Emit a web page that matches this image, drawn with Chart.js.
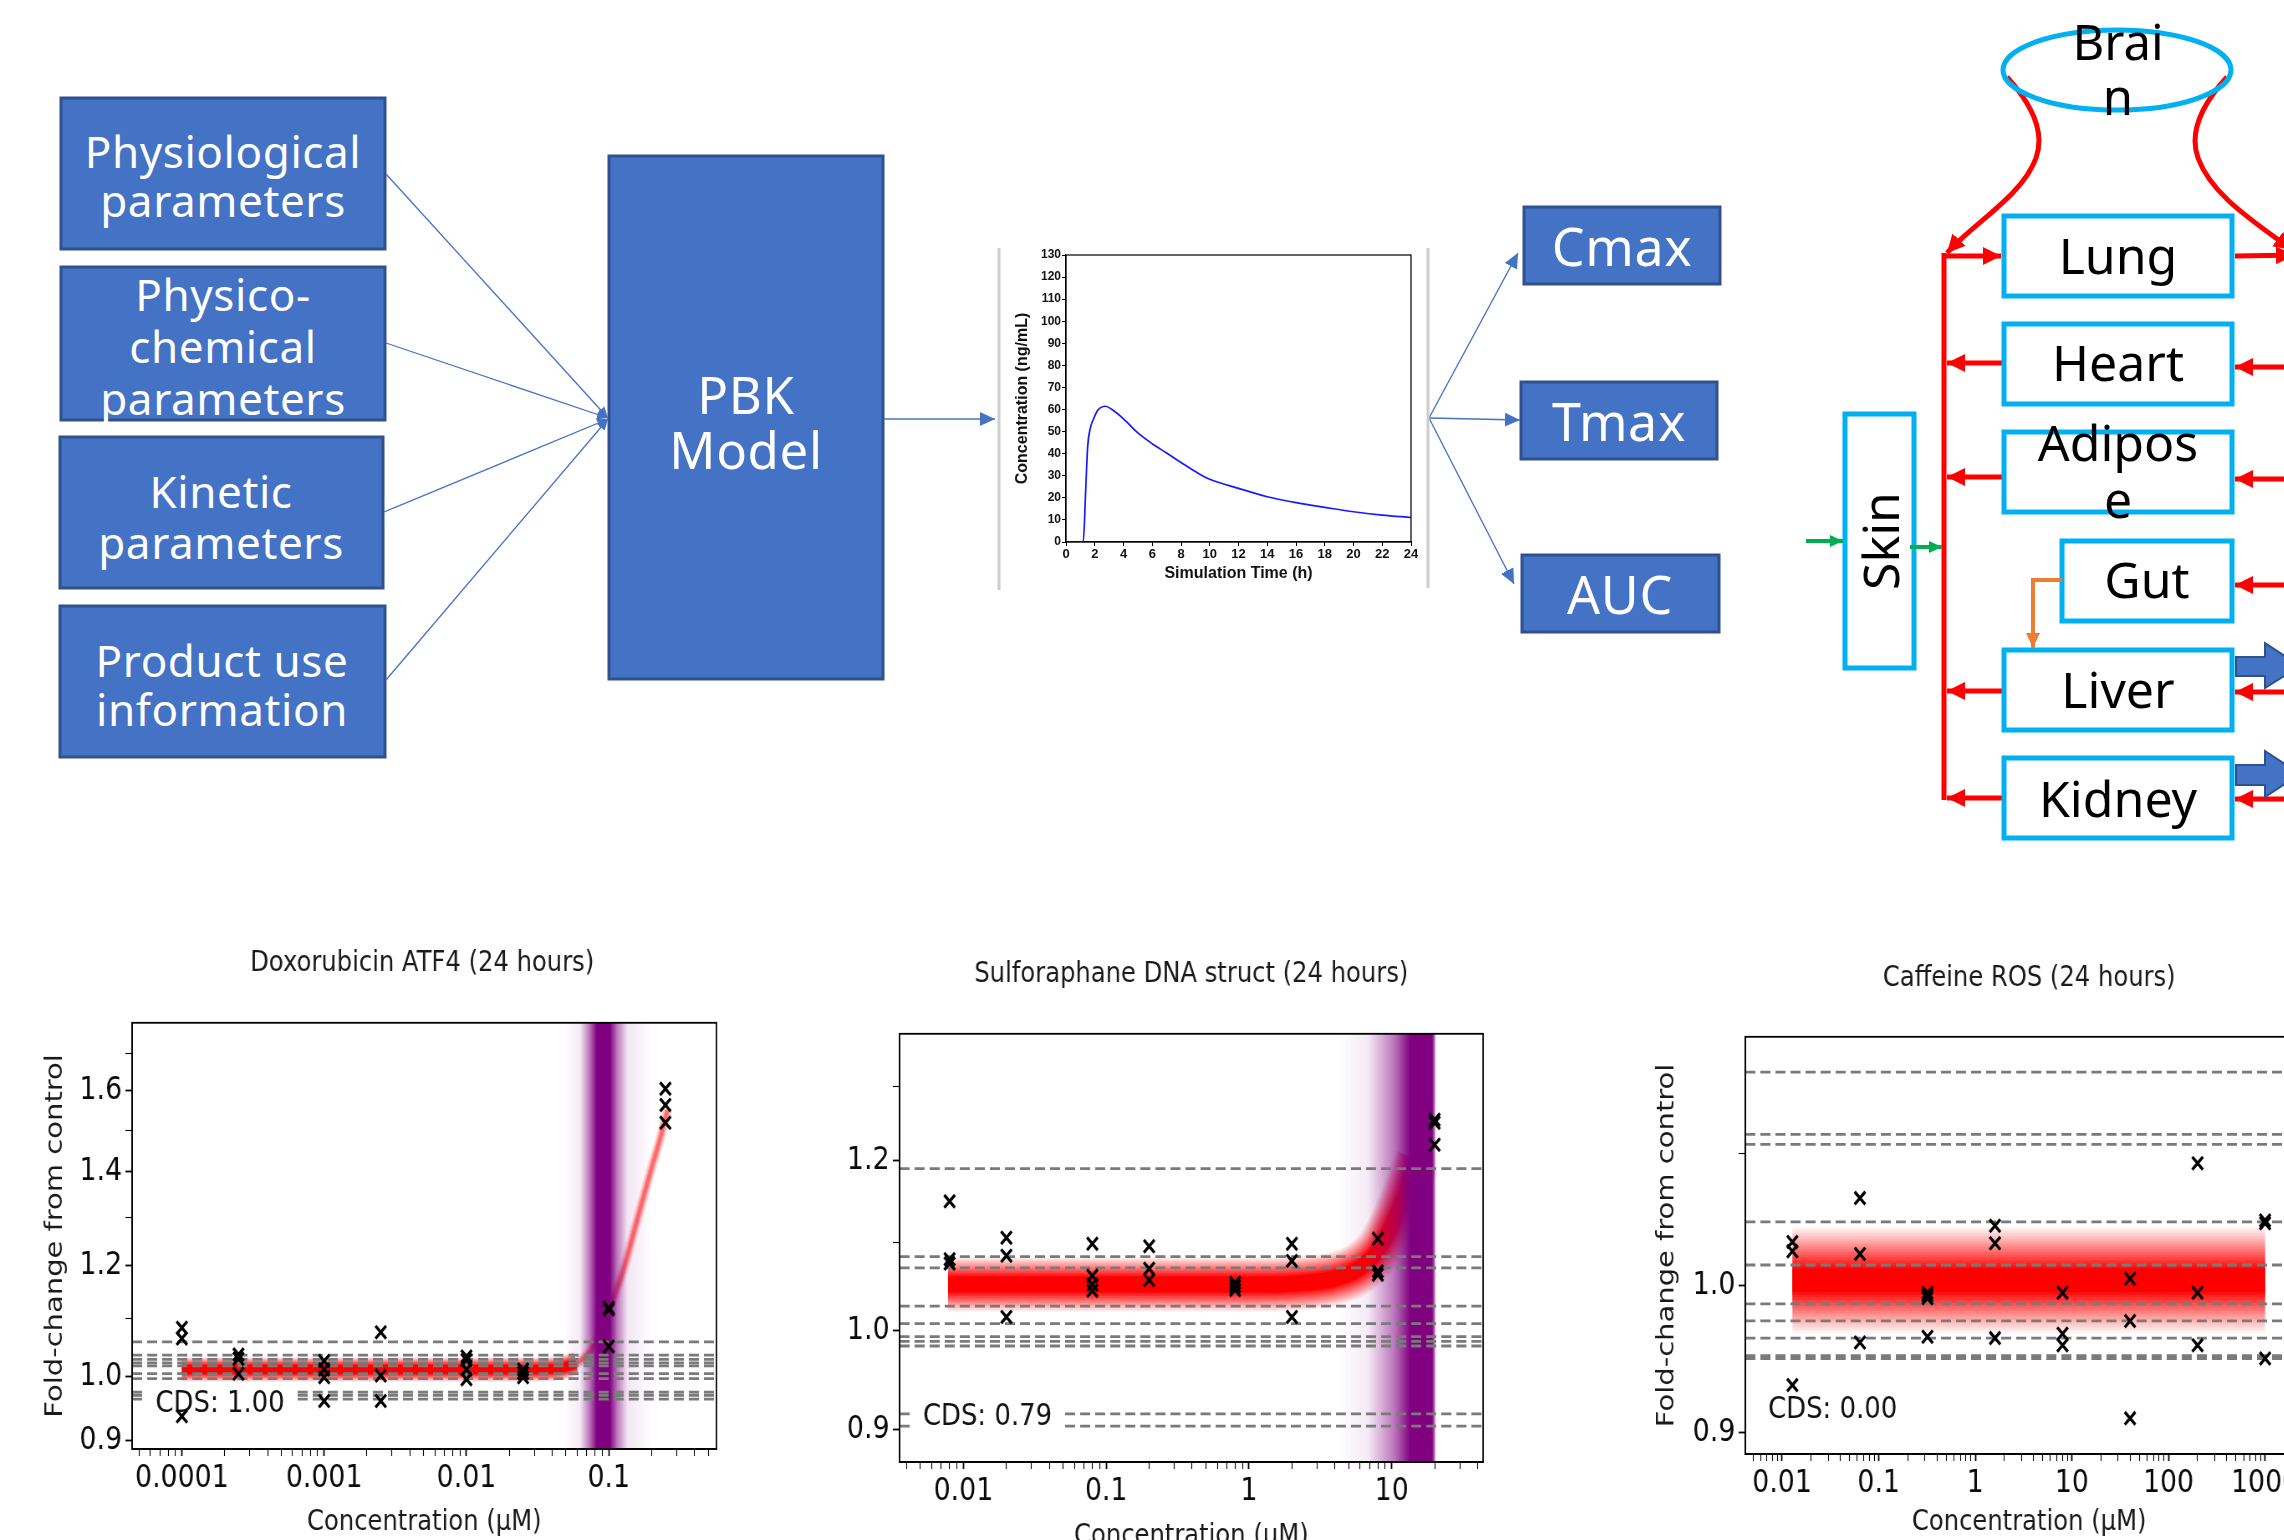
<!DOCTYPE html>
<html>
<head>
<meta charset="utf-8">
<title>PBK workflow</title>
<script src="https://cdn.jsdelivr.net/npm/chart.js@4.4.1/dist/chart.umd.min.js"></script>
<style>
  html, body { margin: 0; padding: 0; background: #fff; }
  body { width: 2284px; height: 1540px; overflow: hidden; position: relative; }
  #diagram { position: absolute; left: 0; top: 0; }
  canvas { position: absolute; }
  /* the dose-response panels come from a horizontally squeezed figure */
  canvas.squeezed { transform: scaleX(0.836); transform-origin: 0 0; }
</style>
</head>
<body>
<svg id="diagram" width="2284" height="1540" viewBox="0 0 2284 1540" xmlns="http://www.w3.org/2000/svg">
  <defs>
    <marker id="hdBlue" markerUnits="userSpaceOnUse" markerWidth="16" markerHeight="16" refX="15" refY="8" orient="auto"><path d="M0,1 L15,8 L0,15 Z" fill="#4472C4"/></marker>
    <marker id="hdBlueS" markerUnits="userSpaceOnUse" markerWidth="12" markerHeight="12" refX="11" refY="6" orient="auto"><path d="M0,1 L11,6 L0,11 Z" fill="#4472C4"/></marker>
    <marker id="hdRed" markerUnits="userSpaceOnUse" markerWidth="20" markerHeight="20" refX="18" refY="10" orient="auto"><path d="M0,1 L18,10 L0,19 Z" fill="#FF0000"/></marker>
    <marker id="hdGreen" markerUnits="userSpaceOnUse" markerWidth="14" markerHeight="14" refX="13" refY="7" orient="auto"><path d="M0,1 L13,7 L0,13 Z" fill="#00B050"/></marker>
    <marker id="hdOrange" markerUnits="userSpaceOnUse" markerWidth="16" markerHeight="16" refX="15" refY="8" orient="auto"><path d="M0,1 L15,8 L0,15 Z" fill="#ED7D31"/></marker>
  </defs>

  <!-- inputs, model, outputs -->
  <g fill="#4472C4" stroke="#2F528F" stroke-width="3">
    <rect x="61" y="98" width="324" height="151"/>
    <rect x="61" y="267" width="324" height="153"/>
    <rect x="60" y="437" width="323" height="151"/>
    <rect x="60" y="606" width="325" height="151"/>
    <rect x="609" y="156" width="274" height="523"/>
    <rect x="1524" y="207" width="196" height="77"/>
    <rect x="1521" y="382" width="196" height="77"/>
    <rect x="1522" y="555" width="197" height="77"/>
  </g>
  <g fill="#fff" font-family="'Noto Sans', 'Open Sans', sans-serif" font-size="44" letter-spacing="0.6" text-anchor="middle" dominant-baseline="central">
    <text x="223" y="151">Physiological</text>
    <text x="223" y="200">parameters</text>
    <text x="223" y="294">Physico-</text>
    <text x="223" y="346">chemical</text>
    <text x="223" y="398">parameters</text>
    <text x="221" y="491">Kinetic</text>
    <text x="221" y="542">parameters</text>
    <text x="222" y="660">Product use</text>
    <text x="222" y="709">information</text>
    <text x="746" y="394" font-size="51">PBK</text>
    <text x="746" y="449" font-size="51">Model</text>
    <text x="1622" y="245" font-size="52">Cmax</text>
    <text x="1619" y="420" font-size="52">Tmax</text>
    <text x="1620" y="593" font-size="52">AUC</text>
  </g>
  <g stroke="#4472C4" stroke-width="1.3" fill="none">
    <line x1="386" y1="174" x2="608" y2="418" marker-end="url(#hdBlueS)"/>
    <line x1="386" y1="343" x2="608" y2="418" marker-end="url(#hdBlueS)"/>
    <line x1="384" y1="512" x2="608" y2="419" marker-end="url(#hdBlueS)"/>
    <line x1="386" y1="680" x2="608" y2="419" marker-end="url(#hdBlueS)"/>
    <line x1="884" y1="419" x2="995" y2="419" stroke-width="1.6" marker-end="url(#hdBlue)"/>
    <line x1="1429" y1="418" x2="1518" y2="253" marker-end="url(#hdBlue)"/>
    <line x1="1429" y1="418" x2="1520" y2="420" marker-end="url(#hdBlue)"/>
    <line x1="1429" y1="418" x2="1514" y2="584" marker-end="url(#hdBlue)"/>
  </g>
  <g stroke="#CBD0CB" stroke-width="3">
    <line x1="999" y1="248" x2="999" y2="590"/>
    <line x1="1428" y1="248" x2="1428" y2="588"/>
  </g>

  <!-- organ scheme -->
  <g fill="none" stroke="#FF0000" stroke-width="5">
    <line x1="1944" y1="253" x2="1944" y2="800"/>
    <path d="M2007,77 C2028,100 2046,130 2036,158 C2022,196 1975,222 1947,253" marker-end="url(#hdRed)"/>
    <path d="M2227,77 C2206,100 2188,130 2198,158 C2212,196 2255,222 2292,250" marker-end="url(#hdRed)"/>
    <line x1="1944" y1="256" x2="2001" y2="256" marker-end="url(#hdRed)"/>
    <line x1="2235" y1="256" x2="2294" y2="255" marker-end="url(#hdRed)"/>
    <line x1="2002" y1="363" x2="1947" y2="363" marker-end="url(#hdRed)"/>
    <line x1="2002" y1="477" x2="1947" y2="477" marker-end="url(#hdRed)"/>
    <line x1="2002" y1="691" x2="1947" y2="691" marker-end="url(#hdRed)"/>
    <line x1="2002" y1="798" x2="1947" y2="798" marker-end="url(#hdRed)"/>
    <line x1="2290" y1="367" x2="2235" y2="367" marker-end="url(#hdRed)"/>
    <line x1="2290" y1="479" x2="2235" y2="479" marker-end="url(#hdRed)"/>
    <line x1="2290" y1="585" x2="2235" y2="585" marker-end="url(#hdRed)"/>
    <line x1="2290" y1="692" x2="2235" y2="692" marker-end="url(#hdRed)"/>
    <line x1="2290" y1="799" x2="2235" y2="799" marker-end="url(#hdRed)"/>
  </g>
  <g fill="#fff" stroke="#00B0F0" stroke-width="5">
    <ellipse cx="2117" cy="70" rx="114" ry="40" fill="none"/>
    <rect x="2004" y="216" width="228" height="80"/>
    <rect x="2004" y="324" width="228" height="80"/>
    <rect x="2004" y="432" width="228" height="80"/>
    <rect x="2062" y="541" width="170" height="80"/>
    <rect x="2004" y="650" width="228" height="80"/>
    <rect x="2004" y="758" width="228" height="80"/>
    <rect x="1845" y="414" width="69" height="254"/>
  </g>
  <g stroke-width="4" fill="none">
    <polyline points="2062,580 2033,580 2033,648" stroke="#ED7D31" marker-end="url(#hdOrange)"/>
    <line x1="1806" y1="541" x2="1843" y2="541" stroke="#00B050" marker-end="url(#hdGreen)"/>
    <line x1="1910" y1="547" x2="1942" y2="547" stroke="#00B050" marker-end="url(#hdGreen)"/>
  </g>
  <g fill="#4472C4" stroke="#2F528F" stroke-width="2">
    <path d="M2236,657 L2265,657 L2265,643 L2300,666 L2265,688 L2265,676 L2236,676 Z"/>
    <path d="M2236,765 L2265,765 L2265,751 L2300,774 L2265,797 L2265,785 L2236,785 Z"/>
  </g>
  <g fill="#000" font-family="'Noto Sans', 'Open Sans', sans-serif" font-size="50" text-anchor="middle">
    <text x="2118" y="60" font-size="49">Brai</text>
    <text x="2118" y="115" font-size="49">n</text>
    <text x="2118" y="274">Lung</text>
    <text x="2118" y="381">Heart</text>
    <text x="2118" y="461">Adipos</text>
    <text x="2118" y="518">e</text>
    <text x="2147" y="598">Gut</text>
    <text x="2118" y="708">Liver</text>
    <text x="2118" y="817">Kidney</text>
    <text x="1880" y="541" dominant-baseline="central" transform="rotate(-90 1880 541)">Skin</text>
  </g>
</svg>

<canvas id="pkChart" width="440" height="350" style="left:998px;top:240px"></canvas>
<canvas id="doxChart" class="squeezed" width="1010" height="610" style="left:0px;top:930px"></canvas>
<canvas id="sfnChart" class="squeezed" width="862" height="625" style="left:831px;top:940px"></canvas>
<canvas id="cafChart" class="squeezed" width="931" height="590" style="left:1640px;top:950px"></canvas>

<script>
// simulated plasma concentration (ng/mL) over 24 h
const pkTime = [0, 1.2, 1.37, 1.51, 1.67, 1.9, 2.25, 2.76, 3.2, 4, 5, 6, 7, 8, 9, 10, 12, 14, 16, 18, 20, 22, 24];
const pkConc = [0, 0, 23.6, 43.3, 51, 55.5, 60, 61.5, 60, 55.8, 49.4, 44.5, 40.3, 36, 31.9, 28.4, 24.3, 20.5, 17.8, 15.7, 13.7, 12.2, 11.1];

// Doxorubicin ATF4 (24 hours)
const doxConc = [0.0001, 0.0001, 0.0001, 0.00025, 0.00025, 0.00025, 0.001, 0.001, 0.001, 0.001,
                 0.0025, 0.0025, 0.0025, 0.01, 0.01, 0.01, 0.01, 0.025, 0.025, 0.025, 0.1, 0.1, 0.1, 0.25, 0.25, 0.25];
const doxFold = [1.084, 1.065, 0.937, 1.037, 1.03, 1.005, 1.026, 1.012, 0.999, 0.961,
                 1.076, 1.002, 0.961, 1.034, 1.028, 1.012, 0.996, 1.012, 1.006, 0.999, 1.12, 1.117, 1.051, 1.605, 1.563, 1.518];
const doxFitConc = [0.0001, 0.001, 0.01, 0.03, 0.045, 0.059, 0.0735, 0.087, 0.1, 0.126, 0.157, 0.2, 0.23, 0.258];
const doxFitFold = [1.012, 1.012, 1.012, 1.012, 1.014, 1.022, 1.042, 1.075, 1.115, 1.19, 1.29, 1.41, 1.48, 1.55];
const doxThresholds = [1.059, 1.036, 1.029, 1.023, 1.018, 1.005, 0.997, 0.975, 0.97, 0.964];
const doxWindow = [0.048, 0.0625, 0.0735, 0.0823, 0.1017, 0.114, 0.135, 0.2];
const doxXRange = [4.47e-5, 0.571];
const doxYRange = [0.888, 1.789];
const doxXLabels = [0.0001, 0.001, 0.01, 0.1];
const doxYLabels = [0.9, 1.0, 1.2, 1.4, 1.6];
const doxYMinor = [1.1, 1.3, 1.5, 1.7];

// Sulforaphane DNA struct (24 hours)
const sfnConc = [0.008, 0.008, 0.008, 0.02, 0.02, 0.02, 0.08, 0.08, 0.08, 0.08, 0.2, 0.2, 0.2,
                 0.8, 0.8, 0.8, 2, 2, 2, 8, 8, 8, 20, 20, 20];
const sfnFold = [1.149, 1.080, 1.075, 1.105, 1.084, 1.015, 1.098, 1.061, 1.051, 1.044, 1.095, 1.069, 1.056,
                 1.053, 1.049, 1.045, 1.098, 1.078, 1.015, 1.104, 1.066, 1.062, 1.254, 1.250, 1.221];
const sfnFitConc = [0.0078, 0.1, 1, 2, 4, 6, 8, 10, 12.5, 15];
const sfnFitFold = [1.051, 1.051, 1.051, 1.052, 1.058, 1.07, 1.09, 1.12, 1.16, 1.2];
const sfnThresholds = [1.19, 1.083, 1.07, 1.027, 1.008, 0.994, 0.989, 0.984, 0.915, 0.903];
const sfnWindow = [4.2, 6.8, 10.5, 13.5, 19.2, 20.0, 20.3, 20.6];
const sfnXRange = [0.00357, 43.7];
const sfnYRange = [0.869, 1.375];
const sfnXLabels = [0.01, 0.1, 1, 10];
const sfnYLabels = [0.9, 1.0, 1.2];
const sfnYMinor = [1.1, 1.3];

// Caffeine ROS (24 hours)
const cafConc = [0.0128, 0.0128, 0.0128, 0.064, 0.064, 0.064, 0.32, 0.32, 0.32, 0.32, 1.6, 1.6, 1.6,
                 8, 8, 8, 40, 40, 40, 200, 200, 200, 1000, 1000, 1000];
const cafFold = [1.032, 1.025, 0.931, 1.065, 1.023, 0.960, 0.995, 0.993, 0.991, 0.964, 1.044, 1.031, 0.963,
                 0.995, 0.966, 0.958, 1.005, 0.975, 0.909, 1.092, 0.995, 0.958, 1.048, 1.046, 0.949];
const cafFitConc = [0.0128, 1000];
const cafFitFold = [1.004, 1.004];
const cafThresholds = [1.166, 1.115, 1.107, 1.047, 1.015, 0.987, 0.975, 0.963, 0.951, 0.949];
const cafXRange = [0.00417, 3130];
const cafYRange = [0.886, 1.196];
const cafXLabels = [0.01, 0.1, 1, 10, 100, 1000];
const cafYLabels = [0.9, 1.0];
const cafYMinor = [1.1];

const PLAIN = '"DejaVu Sans", sans-serif';
const PKFONT = '"Liberation Sans", Arial, sans-serif';
const WINDOW_ALPHA = [0, 0.08, 0.55, 1, 1, 0.55, 0.1, 0];

Chart.defaults.color = '#111';
Chart.defaults.font.family = PLAIN;

// box round the plot area (top + right sides too)
const frameBox = {
  id: 'frameBox',
  afterDraw(chart, args, opts) {
    const a = chart.chartArea, ctx = chart.ctx;
    ctx.save();
    ctx.strokeStyle = '#000';
    ctx.lineWidth = opts.width || 1.5;
    ctx.strokeRect(a.left, a.top, a.right - a.left, a.bottom - a.top);
    ctx.restore();
  }
};

function drawWindow(chart, values) {
  const ctx = chart.ctx, a = chart.chartArea, x = chart.scales.x;
  const px = values.map(v => x.getPixelForValue(v));
  const p0 = px[0], p1 = px[px.length - 1];
  const g = ctx.createLinearGradient(p0, 0, p1, 0);
  px.forEach((p, i) => g.addColorStop((p - p0) / (p1 - p0), 'rgba(128,0,128,' + WINDOW_ALPHA[i] + ')'));
  ctx.save();
  ctx.beginPath();
  ctx.rect(a.left, a.top, a.right - a.left, a.bottom - a.top);
  ctx.clip();
  ctx.fillStyle = g;
  ctx.fillRect(p0, a.top, p1 - p0, a.bottom - a.top);
  ctx.restore();
}

function drawCds(chart, text) {
  const ctx = chart.ctx, a = chart.chartArea;
  const x = a.left + 0.04 * (a.right - a.left);
  const y = a.bottom - 0.105 * (a.bottom - a.top);
  ctx.save();
  ctx.font = '31px ' + PLAIN;
  const w = ctx.measureText(text).width;
  ctx.fillStyle = '#fff';
  ctx.fillRect(x - 12, y - 19, w + 24, 38);
  ctx.fillStyle = '#111';
  ctx.textBaseline = 'middle';
  ctx.fillText(text, x, y);
  ctx.restore();
}

// the sensitivity window and the CDS label go in between dataset layers
const layerHooks = {
  id: 'layerHooks',
  beforeDatasetDraw(chart, args, opts) {
    const hook = chart.data.datasets[args.index].hook;
    if (hook === 'window' && opts.window) drawWindow(chart, opts.window);
    if (hook === 'cds' && opts.cds) drawCds(chart, opts.cds);
  }
};

// blurred fit curve: stacked lines, widest first
function bandLayers(xs, ys, outer, core, steps, rgb, fade) {
  const pts = xs.map((x, i) => ({ x: x, y: ys[i] }));
  const out = [];
  for (let k = 1; k <= steps; k++) {
    const w = outer - (outer - core) * (k - 1) / (steps - 1);
    out.push({
      type: 'line', data: pts,
      borderColor: 'rgba(' + rgb + ',' + (fade / (steps - k + 1)) + ')',
      borderWidth: w, pointRadius: 0, borderCapStyle: 'butt', borderJoinStyle: 'round',
      cubicInterpolationMode: 'monotone', order: 60 - k
    });
  }
  return out;
}

function logTicks(min, max, labels) {
  const ticks = [];
  for (let d = Math.floor(Math.log10(min)); d <= Math.ceil(Math.log10(max)); d++) {
    const dec = Math.pow(10, d);
    for (let m = 1; m <= 9; m++) {
      const v = m * dec;
      if (v >= min && v <= max) ticks.push({ value: v, major: m === 1 && labels.some(l => Math.abs(l - v) / l < 1e-6) });
    }
  }
  return ticks;
}

function foldChart(id, o) {
  const xmin = o.xRange[0], xmax = o.xRange[1];
  let datasets = [];
  o.bands.forEach(b => { datasets = datasets.concat(bandLayers(b.xs, b.ys, b.outer, b.core, b.steps, b.rgb, b.fade)); });
  datasets.push({ type: 'line', data: [], hook: 'window', order: 8 });
  o.thresholds.forEach(v => datasets.push({
    type: 'line', data: [{ x: xmin, y: v }, { x: xmax, y: v }],
    borderColor: 'rgb(122,122,122)', borderWidth: 2.8, borderDash: [12, 6], pointRadius: 0, order: 6
  }));
  datasets.push({ type: 'line', data: [], hook: 'cds', order: 4 });
  datasets.push({
    type: 'scatter', data: o.conc.map((c, i) => ({ x: c, y: o.fold[i] })),
    pointStyle: 'crossRot', pointRadius: 9, borderColor: '#000', backgroundColor: '#000', borderWidth: 3.2, order: 0
  });

  const yTicks = o.yLabels.map(v => ({ value: v, major: true }))
    .concat(o.yMinor.map(v => ({ value: v, major: false })))
    .sort((p, q) => p.value - q.value);

  return new Chart(document.getElementById(id), {
    type: 'scatter',
    data: { datasets: datasets },
    options: {
      responsive: false, animation: false, devicePixelRatio: 1, events: [],
      layout: { padding: 0 },
      plugins: {
        legend: { display: false }, tooltip: { enabled: false },
        title: { display: true, text: o.title, color: '#1a1a1a', font: { family: PLAIN, size: 29, weight: 'normal' }, padding: o.titlePad },
        frameBox: { width: 1.8 },
        layerHooks: { window: o.window, cds: o.cds }
      },
      scales: {
        x: {
          type: 'logarithmic', min: xmin, max: xmax,
          afterBuildTicks: s => { s.ticks = logTicks(xmin, xmax, o.xLabels); },
          afterFit: s => { s.height = o.xAxisH; },
          ticks: {
            autoSkip: false, maxRotation: 0, minRotation: 0, padding: 3, color: '#0a0a0a',
            font: { family: PLAIN, size: 32 },
            callback: (v, i, t) => t[i].major ? String(+v.toPrecision(6)) : ''
          },
          grid: { drawOnChartArea: false, tickLength: 7, tickColor: '#000', tickWidth: c => (c.tick && c.tick.major) ? 1.8 : 1.1 },
          border: { color: '#000', width: 1.8 },
          title: { display: true, text: 'Concentration (μM)', color: '#1a1a1a', font: { family: PLAIN, size: 29 }, padding: { top: 0, bottom: o.xTitlePad } }
        },
        y: {
          type: 'logarithmic', min: o.yRange[0], max: o.yRange[1],
          afterBuildTicks: s => { s.ticks = yTicks.map(t => ({ value: t.value, major: t.major })); },
          afterFit: s => { s.width = o.yAxisW; },
          ticks: {
            autoSkip: false, padding: 4, color: '#0a0a0a', font: { family: PLAIN, size: 32 },
            callback: (v, i, t) => t[i].major ? v.toFixed(1) : ''
          },
          grid: { drawOnChartArea: false, tickLength: 8, tickColor: '#000', tickWidth: c => (c.tick && c.tick.major) ? 1.8 : 1.1 },
          border: { color: '#000', width: 1.8 },
          title: o.yTitlePad === null ? { display: false } : {
            display: true, text: 'Fold-change from control', color: '#1a1a1a',
            font: { family: PLAIN, size: 29 }, padding: { top: o.yTitlePad, bottom: 0 }
          }
        },
        // empty right-hand margin, same width as the left axis so the title sits over the plot
        yRight: {
          type: 'linear', position: 'right', display: true,
          afterFit: s => { s.width = o.rightW; },
          ticks: { display: false }, grid: { display: false }, border: { display: false }
        }
      }
    },
    plugins: [frameBox, layerHooks]
  });
}

// PK curve
new Chart(document.getElementById('pkChart'), {
  type: 'line',
  data: {
    datasets: [{
      data: pkTime.map((t, i) => ({ x: t, y: pkConc[i] })),
      borderColor: '#1a1aff', borderWidth: 1.7, pointRadius: 0, cubicInterpolationMode: 'monotone'
    }]
  },
  options: {
    responsive: false, animation: false, devicePixelRatio: 1, events: [],
    layout: { padding: { left: 0, top: 15, right: 27, bottom: 0 } },
    plugins: { legend: { display: false }, tooltip: { enabled: false }, frameBox: { width: 1.2 } },
    scales: {
      x: {
        type: 'linear', min: 0, max: 24,
        afterFit: s => { s.height = 48; },
        ticks: { stepSize: 2, padding: 1, maxRotation: 0, autoSkip: false, color: '#111', font: { family: PKFONT, size: 13, weight: 'bold' } },
        grid: { drawOnChartArea: false, tickLength: 4, tickColor: '#000' },
        border: { color: '#000', width: 1.2 },
        title: { display: true, text: 'Simulation Time (h)', color: '#111', font: { family: PKFONT, size: 16, weight: 'bold' }, padding: { top: 0, bottom: 7 } }
      },
      y: {
        min: 0, max: 130,
        afterFit: s => { s.width = 68; },
        ticks: { stepSize: 10, padding: 1, autoSkip: false, color: '#111', font: { family: PKFONT, size: 12, weight: 'bold' } },
        grid: { drawOnChartArea: false, tickLength: 4, tickColor: '#000' },
        border: { color: '#000', width: 1.2 },
        title: { display: true, text: 'Concentration (ng/mL)', color: '#111', font: { family: PKFONT, size: 16, weight: 'bold' }, padding: { top: 15, bottom: 0 } }
      }
    }
  },
  plugins: [frameBox]
});

foldChart('doxChart', {
  title: 'Doxorubicin ATF4 (24 hours)', titlePad: { top: 16, bottom: 42 },
  conc: doxConc, fold: doxFold, thresholds: doxThresholds, window: doxWindow, cds: 'CDS: 1.00',
  bands: [
    { xs: doxFitConc.filter(c => c <= 0.059), ys: doxFitFold.filter((f, i) => doxFitConc[i] <= 0.059), outer: 24, core: 9, steps: 8, rgb: '255,0,0', fade: 1 },
    { xs: doxFitConc.filter(c => c >= 0.045), ys: doxFitFold.filter((f, i) => doxFitConc[i] >= 0.045), outer: 12, core: 4, steps: 5, rgb: '255,70,70', fade: 0.55 }
  ],
  xRange: doxXRange, yRange: doxYRange, xLabels: doxXLabels, yLabels: doxYLabels, yMinor: doxYMinor,
  xAxisH: 91, yAxisW: 158, rightW: 153, xTitlePad: 0, yTitlePad: 49
});

foldChart('sfnChart', {
  title: 'Sulforaphane DNA struct (24 hours)', titlePad: { top: 17, bottom: 42 },
  conc: sfnConc, fold: sfnFold, thresholds: sfnThresholds, window: sfnWindow, cds: 'CDS: 0.79',
  bands: [{ xs: sfnFitConc, ys: sfnFitFold, outer: 54, core: 16, steps: 12, rgb: '255,0,0', fade: 1 }],
  xRange: sfnXRange, yRange: sfnYRange, xLabels: sfnXLabels, yLabels: sfnYLabels, yMinor: sfnYMinor,
  xAxisH: 103, yAxisW: 82, rightW: 82, xTitlePad: 11, yTitlePad: null
});

foldChart('cafChart', {
  title: 'Caffeine ROS (24 hours)', titlePad: { top: 11, bottom: 41 },
  conc: cafConc, fold: cafFold, thresholds: cafThresholds, window: null, cds: 'CDS: 0.00',
  bands: [{ xs: cafFitConc, ys: cafFitFold, outer: 105, core: 24, steps: 16, rgb: '255,0,0', fade: 1 }],
  xRange: cafXRange, yRange: cafYRange, xLabels: cafXLabels, yLabels: cafYLabels, yMinor: cafYMinor,
  xAxisH: 86, yAxisW: 126, rightW: 126, xTitlePad: 0, yTitlePad: 15
});
</script>
</body>
</html>
